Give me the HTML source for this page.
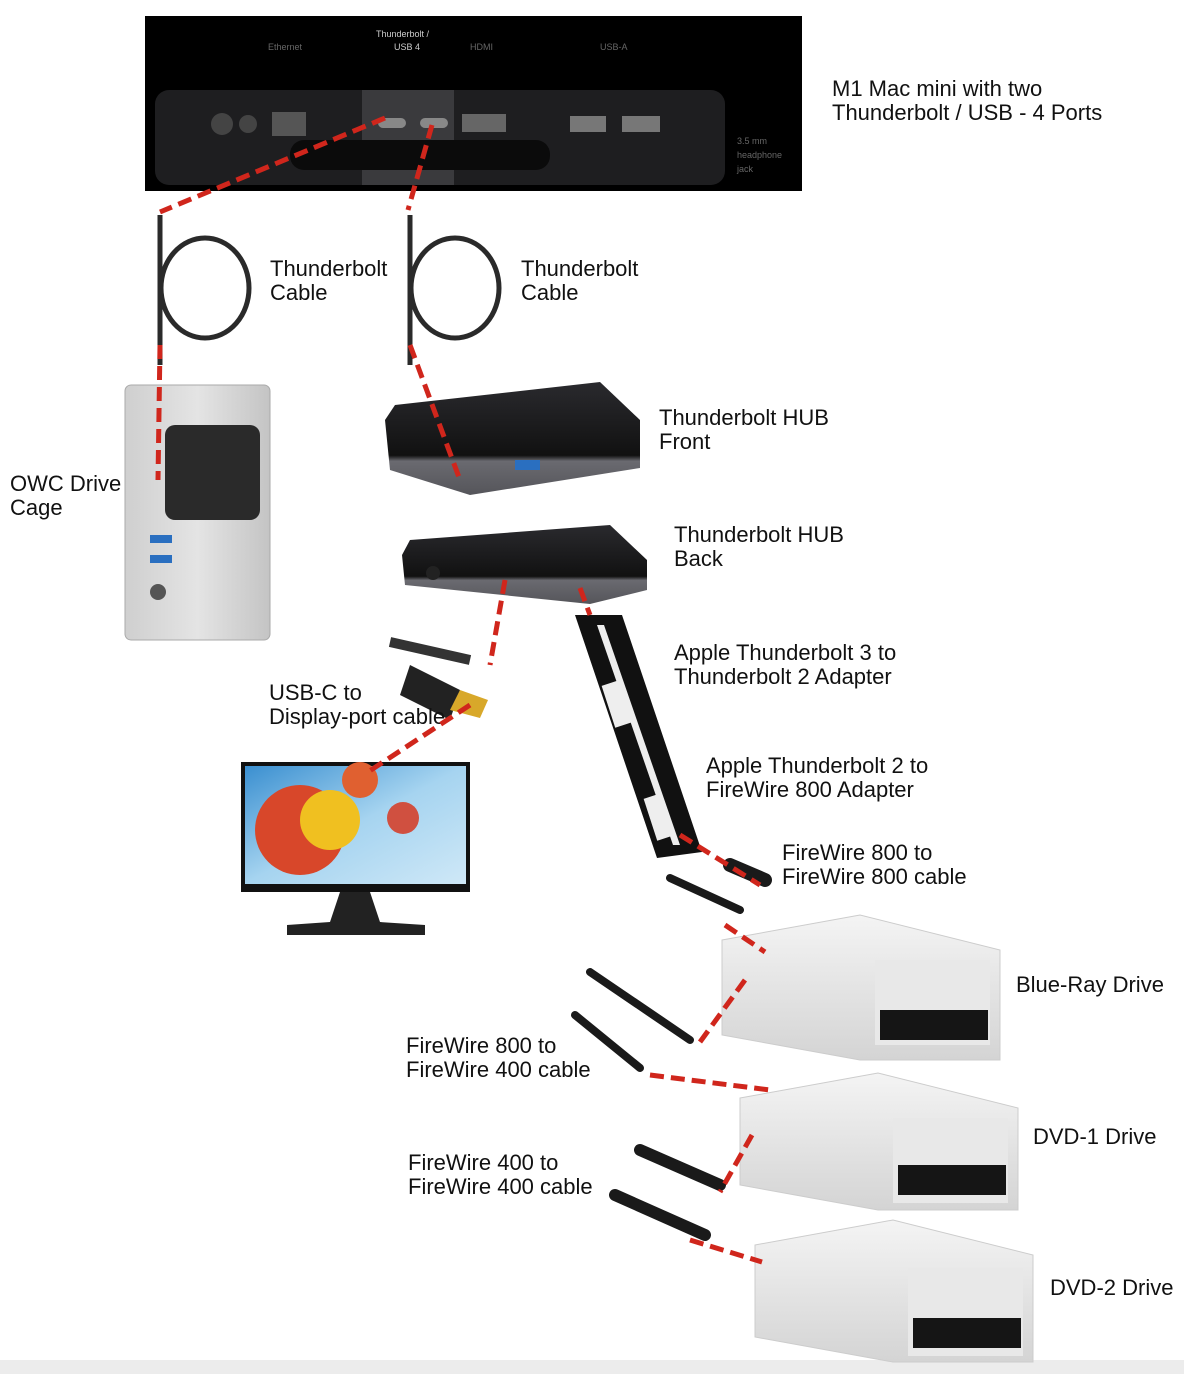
<!DOCTYPE html>
<html><head><meta charset="utf-8"><style>
html,body{margin:0;padding:0;background:#fff;}
svg{display:block}
text{font-family:"Liberation Sans",sans-serif;font-size:22px;fill:#111}
</style></head><body>
<svg width="1184" height="1374" viewBox="0 0 1184 1374" xmlns="http://www.w3.org/2000/svg">
<defs>
<linearGradient id="silver" x1="0" y1="0" x2="0" y2="1"><stop offset="0" stop-color="#f4f4f4"/><stop offset="1" stop-color="#d4d4d4"/></linearGradient>
<linearGradient id="cage" x1="0" y1="0" x2="1" y2="0"><stop offset="0" stop-color="#cfcfcf"/><stop offset="0.5" stop-color="#e4e4e4"/><stop offset="1" stop-color="#c4c4c4"/></linearGradient>
<linearGradient id="hub" x1="0" y1="0" x2="0" y2="1"><stop offset="0" stop-color="#2a2a2e"/><stop offset="0.65" stop-color="#111"/><stop offset="0.7" stop-color="#6a6a70"/><stop offset="1" stop-color="#55555a"/></linearGradient>
<linearGradient id="screen" x1="0" y1="0" x2="1" y2="1"><stop offset="0" stop-color="#3a8fd0"/><stop offset="0.5" stop-color="#a6d4f0"/><stop offset="1" stop-color="#cfe8f7"/></linearGradient>
</defs>
<rect x="0" y="1360" width="1184" height="14" fill="#ececec"/>
<rect x="145" y="16" width="657" height="175" fill="#000"/>
<rect x="155" y="90" width="570" height="95" rx="14" fill="#1e1e20"/>
<rect x="362" y="90" width="92" height="95" fill="#3a3a3d"/>
<rect x="290" y="140" width="260" height="30" rx="14" fill="#0b0b0b"/>
<circle cx="222" cy="124" r="11" fill="#444"/><circle cx="248" cy="124" r="9" fill="#444"/>
<rect x="272" y="112" width="34" height="24" fill="#555"/>
<rect x="378" y="118" width="28" height="10" rx="5" fill="#888"/>
<rect x="420" y="118" width="28" height="10" rx="5" fill="#888"/>
<rect x="462" y="114" width="44" height="18" fill="#666"/>
<rect x="570" y="116" width="36" height="16" fill="#777"/>
<rect x="622" y="116" width="38" height="16" fill="#777"/>
<text x="268" y="50" style="font-size:9px;fill:#666">Ethernet</text><text x="376" y="37" style="font-size:9px;fill:#ccc">Thunderbolt /</text><text x="394" y="50" style="font-size:9px;fill:#ccc">USB 4</text><text x="470" y="50" style="font-size:9px;fill:#666">HDMI</text><text x="600" y="50" style="font-size:9px;fill:#666">USB-A</text><text x="737" y="144" style="font-size:9px;fill:#666">3.5 mm</text><text x="737" y="158" style="font-size:9px;fill:#666">headphone</text><text x="737" y="172" style="font-size:9px;fill:#666">jack</text>
<text x="832" y="96">M1 Mac mini with two</text>
<text x="832" y="120">Thunderbolt / USB - 4 Ports</text>
<g fill="none" stroke="#2a2a2a" stroke-width="5">
<ellipse cx="205" cy="288" rx="44" ry="50"/><line x1="160" y1="215" x2="160" y2="365"/>
<ellipse cx="455" cy="288" rx="44" ry="50"/><line x1="410" y1="215" x2="410" y2="365"/>
</g>
<text x="270" y="276">Thunderbolt</text><text x="270" y="300">Cable</text>
<text x="521" y="276">Thunderbolt</text><text x="521" y="300">Cable</text>
<rect x="125" y="385" width="145" height="255" rx="6" fill="url(#cage)" stroke="#aaa"/>
<rect x="165" y="425" width="95" height="95" rx="10" fill="#2a2a2a"/>
<rect x="150" y="535" width="22" height="8" fill="#2a6fc0"/><rect x="150" y="555" width="22" height="8" fill="#2a6fc0"/>
<circle cx="158" cy="592" r="8" fill="#555"/>
<text x="10" y="491">OWC Drive</text><text x="10" y="515">Cage</text>
<path d="M395 405 L600 382 L640 420 L640 468 L470 495 L390 470 L385 420 Z" fill="url(#hub)"/>
<rect x="515" y="460" width="25" height="10" fill="#2a6fc0"/>
<text x="659" y="425">Thunderbolt HUB</text><text x="659" y="449">Front</text>
<path d="M410 540 L610 525 L647 560 L647 590 L590 604 L405 585 L402 555 Z" fill="url(#hub)"/>
<circle cx="433" cy="573" r="7" fill="#222"/>
<text x="674" y="542">Thunderbolt HUB</text><text x="674" y="566">Back</text>
<polygon points="575,615 622,615 702,852 657,858" fill="#111"/>
<polygon points="597,625 604,625 680,845 673,845" fill="#eee"/>
<rect x="608" y="682" width="18" height="44" fill="#eee" transform="rotate(-18 617 704)"/>
<rect x="650" y="795" width="18" height="44" fill="#eee" transform="rotate(-18 659 817)"/>
<text x="674" y="660">Apple Thunderbolt 3 to</text><text x="674" y="684">Thunderbolt 2 Adapter</text>
<text x="706" y="773">Apple Thunderbolt 2 to</text><text x="706" y="797">FireWire 800 Adapter</text>
<text x="782" y="860">FireWire 800 to</text><text x="782" y="884">FireWire 800 cable</text>
<line x1="390" y1="642" x2="470" y2="660" stroke="#333" stroke-width="10"/>
<polygon points="410,665 460,690 450,720 400,695" fill="#222"/>
<polygon points="460,690 488,700 480,718 450,710" fill="#d8a82a"/>
<text x="269" y="700">USB-C to</text><text x="269" y="724">Display-port cable</text>
<rect x="241" y="762" width="229" height="130" fill="#111"/>
<rect x="245" y="766" width="221" height="118" fill="url(#screen)"/>
<circle cx="300" cy="830" r="45" fill="#d8472a"/><circle cx="330" cy="820" r="30" fill="#f0c020"/><circle cx="360" cy="780" r="18" fill="#e06030"/><circle cx="403" cy="818" r="16" fill="#d05040"/>
<path d="M340 892 L330 922 L287 925 L287 935 L425 935 L425 925 L380 922 L370 892 Z" fill="#222"/>
<g stroke="#1a1a1a" stroke-linecap="round">
<line x1="670" y1="878" x2="740" y2="910" stroke-width="8"/>
<line x1="730" y1="865" x2="765" y2="880" stroke-width="14"/>
<line x1="590" y1="972" x2="690" y2="1040" stroke-width="8"/>
<line x1="575" y1="1015" x2="640" y2="1068" stroke-width="8"/>
<line x1="640" y1="1150" x2="720" y2="1185" stroke-width="12"/>
<line x1="615" y1="1195" x2="705" y2="1235" stroke-width="12"/>
</g>
<path d="M722 940 L860 915 L1000 950 L1000 1060 L860 1060 L722 1035 Z" fill="url(#silver)" stroke="#ccc"/>
<rect x="875" y="960" width="115" height="85" fill="#e8e8e8"/><rect x="880" y="1010" width="108" height="30" fill="#151515"/>
<path d="M740 1098 L878 1073 L1018 1108 L1018 1210 L878 1210 L740 1185 Z" fill="url(#silver)" stroke="#ccc"/>
<rect x="893" y="1118" width="115" height="85" fill="#e8e8e8"/><rect x="898" y="1165" width="108" height="30" fill="#151515"/>
<path d="M755 1245 L893 1220 L1033 1255 L1033 1362 L893 1362 L755 1337 Z" fill="url(#silver)" stroke="#ccc"/>
<rect x="908" y="1268" width="115" height="88" fill="#e8e8e8"/><rect x="913" y="1318" width="108" height="30" fill="#151515"/>
<text x="1016" y="992">Blue-Ray Drive</text>
<text x="1033" y="1144">DVD-1 Drive</text>
<text x="1050" y="1295">DVD-2 Drive</text>
<text x="406" y="1053">FireWire 800 to</text><text x="406" y="1077">FireWire 400 cable</text>
<text x="408" y="1170">FireWire 400 to</text><text x="408" y="1194">FireWire 400 cable</text>
<g fill="none" stroke="#d0261c" stroke-width="5" stroke-dasharray="14 7">
<line x1="385" y1="118" x2="160" y2="212"/>
<line x1="432" y1="125" x2="408" y2="210"/>
<line x1="160" y1="345" x2="158" y2="480"/>
<line x1="410" y1="345" x2="460" y2="480"/>
<line x1="505" y1="580" x2="490" y2="665"/>
<line x1="580" y1="588" x2="590" y2="615"/>
<line x1="470" y1="705" x2="368" y2="772"/>
<line x1="680" y1="835" x2="760" y2="885"/>
<line x1="725" y1="925" x2="765" y2="952"/>
<line x1="745" y1="980" x2="700" y2="1042"/>
<line x1="650" y1="1075" x2="770" y2="1090"/>
<line x1="752" y1="1135" x2="720" y2="1192"/>
<line x1="690" y1="1240" x2="762" y2="1262"/>
</g>
</svg>
</body></html>
